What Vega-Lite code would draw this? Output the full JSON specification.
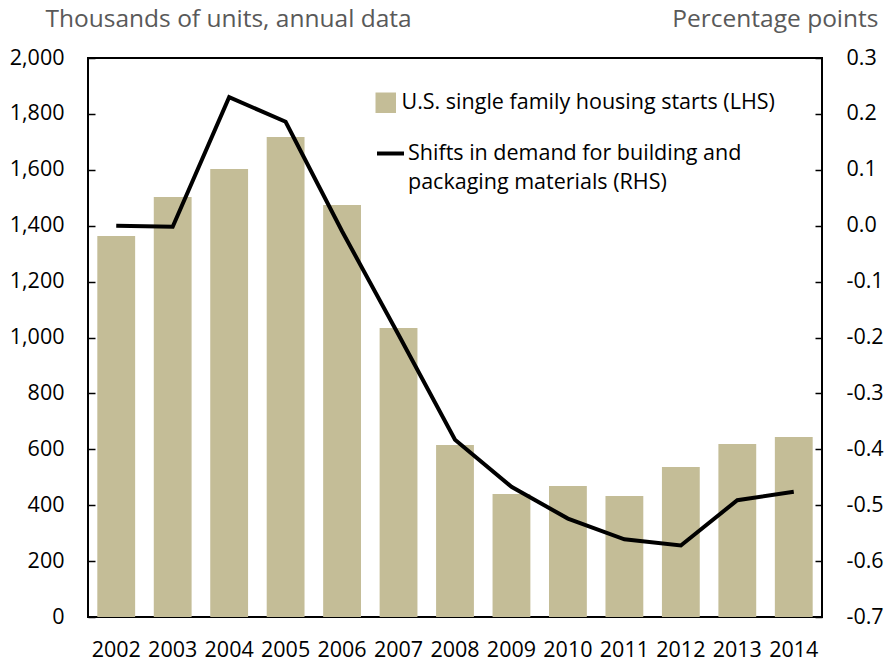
{
  "$schema": "https://vega.github.io/schema/vega-lite/v6.json",
  "width": 734,
  "height": 559,
  "autosize": {"type": "none"},
  "padding": {"left": 88, "top": 58, "right": 73, "bottom": 46},
  "background": "white",
  "config": {
    "font": "Open Sans",
    "view": {"stroke": "black", "strokeWidth": 2},
    "axis": {
      "grid": false,
      "domain": false,
      "labelFont": "Open Sans",
      "labelFontSize": 21.5,
      "labelColor": "black",
      "tickColor": "black",
      "tickWidth": 1.5,
      "titleFont": "Open Sans",
      "titleFontSize": 24.5,
      "titleFontWeight": "normal",
      "titleColor": "#595959"
    },
    "legend": {
      "labelFont": "Open Sans",
      "labelFontSize": 21.5,
      "labelColor": "black",
      "labelLimit": 0
    },
    "style": {"guide-label": {"lineHeight": 29}}
  },
  "data": {
    "values": [
      {"year": "2002", "starts": 1363, "shift": 0.0},
      {"year": "2003", "starts": 1503, "shift": -0.002},
      {"year": "2004", "starts": 1603, "shift": 0.23},
      {"year": "2005", "starts": 1717, "shift": 0.186},
      {"year": "2006", "starts": 1474, "shift": -0.01},
      {"year": "2007", "starts": 1034, "shift": -0.195},
      {"year": "2008", "starts": 615, "shift": -0.383},
      {"year": "2009", "starts": 440, "shift": -0.467},
      {"year": "2010", "starts": 469, "shift": -0.524},
      {"year": "2011", "starts": 433, "shift": -0.561},
      {"year": "2012", "starts": 537, "shift": -0.572},
      {"year": "2013", "starts": 619, "shift": -0.491},
      {"year": "2014", "starts": 644, "shift": -0.476}
    ]
  },
  "layer": [
    {
      "mark": {"type": "bar"},
      "encoding": {
        "x": {
          "field": "year",
          "type": "ordinal",
          "scale": {"paddingInner": 0.33, "paddingOuter": 0.165},
          "axis": {"title": null, "ticks": false, "labelAngle": 0, "labelPadding": 22}
        },
        "y": {
          "field": "starts",
          "type": "quantitative",
          "scale": {"domain": [0, 2000], "nice": false},
          "axis": {
            "orient": "left",
            "values": [0, 200, 400, 600, 800, 1000, 1200, 1400, 1600, 1800, 2000],
            "format": ",.0f",
            "tickSize": -7,
            "labelPadding": 31,
            "title": "Thousands of units, annual data",
            "titleAngle": 0,
            "titleAlign": "left",
            "titleBaseline": "alphabetic",
            "titleX": -43,
            "titleY": -32
          }
        },
        "fill": {
          "datum": "U.S. single family housing starts (LHS)",
          "scale": {"range": ["#c4bd97"]},
          "legend": {
            "title": null,
            "orient": "none",
            "legendX": 287,
            "legendY": 34,
            "symbolType": "square",
            "symbolSize": 420,
            "symbolStrokeWidth": 0,
            "labelOffset": 5
          }
        }
      }
    },
    {
      "mark": {"type": "line", "strokeWidth": 4},
      "encoding": {
        "x": {"field": "year", "type": "ordinal"},
        "y": {
          "field": "shift",
          "type": "quantitative",
          "scale": {"domain": [-0.7, 0.3], "nice": false},
          "axis": {
            "orient": "right",
            "values": [-0.7, -0.6, -0.5, -0.4, -0.3, -0.2, -0.1, 0, 0.1, 0.2, 0.3],
            "format": ".1f",
            "labelExpr": "replace(datum.label, '\u2212', '-')",
            "tickSize": -7,
            "labelPadding": 31,
            "title": "Percentage points",
            "titleAngle": 0,
            "titleAlign": "right",
            "titleBaseline": "alphabetic",
            "titleX": 56,
            "titleY": -32
          }
        },
        "stroke": {
          "datum": "Shifts in demand for building and|packaging materials (RHS)",
          "scale": {"range": ["black"]},
          "legend": {
            "title": null,
            "orient": "none",
            "legendX": 287,
            "legendY": 80,
            "symbolType": "stroke",
            "symbolSize": 729,
            "symbolStrokeWidth": 4,
            "labelOffset": 2,
            "labelExpr": "split(datum.label, '|')"
          }
        }
      }
    }
  ],
  "resolve": {"scale": {"y": "independent"}}
}
